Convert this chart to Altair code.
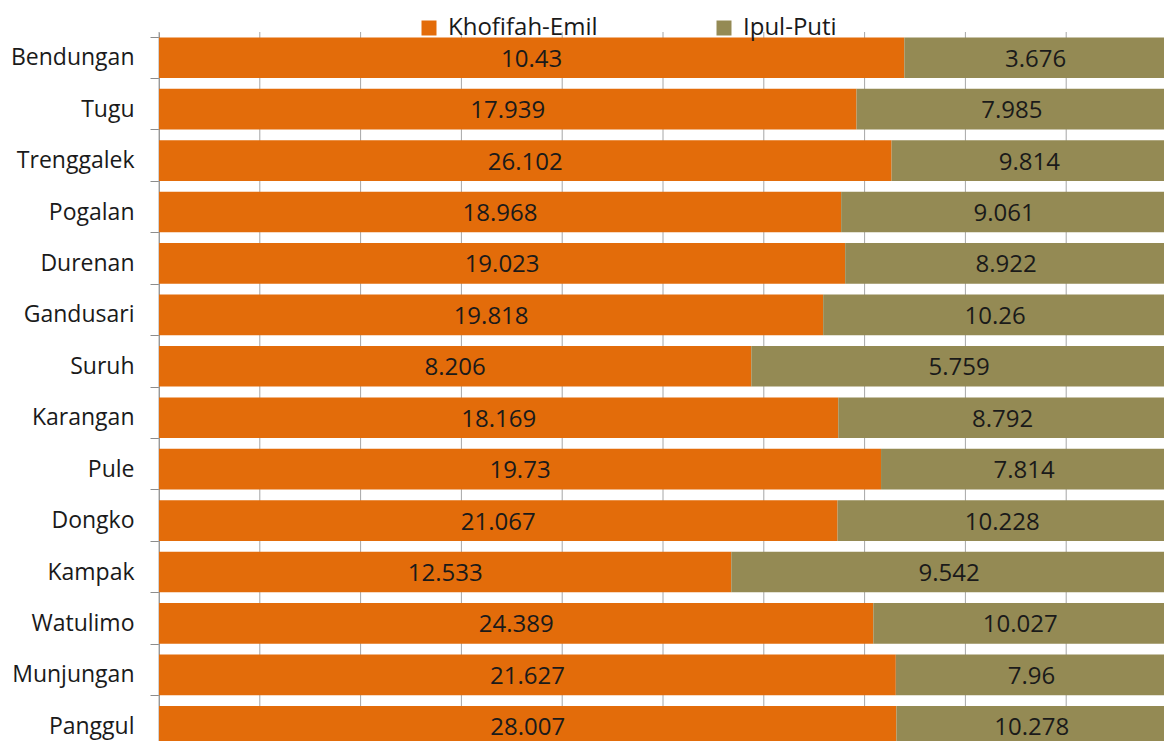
import altair as alt
import pandas as pd

kecamatan = ["Bendungan", "Tugu", "Trenggalek", "Pogalan", "Durenan", "Gandusari", "Suruh",
             "Karangan", "Pule", "Dongko", "Kampak", "Watulimo", "Munjungan", "Panggul"]
khofifah_emil = [10.43, 17.939, 26.102, 18.968, 19.023, 19.818, 8.206,
                 18.169, 19.73, 21.067, 12.533, 24.389, 21.627, 28.007]
ipul_puti = [3.676, 7.985, 9.814, 9.061, 8.922, 10.26, 5.759,
             8.792, 7.814, 10.228, 9.542, 10.027, 7.96, 10.278]
series = ["Khofifah-Emil", "Ipul-Puti"]
colors = ["#E36C0A", "#948A54"]
grid_values = [0.0, 0.1, 0.2, 0.3, 0.4, 0.5, 0.6, 0.7, 0.8, 0.9, 1.0]

rows = []
for k, a, b in zip(kecamatan, khofifah_emil, ipul_puti):
    rows.append({"kec": k, "paslon": series[0], "ord": 0, "value": a})
    rows.append({"kec": k, "paslon": series[1], "ord": 1, "value": b})
df = pd.DataFrame(rows)
grid_df = pd.DataFrame({"g": grid_values})

FONT = "Open Sans"

base = (
    alt.Chart(df)
    .transform_stack(stack="value", groupby=["kec"], as_=["v0", "v1"], offset="normalize",
                     sort=[alt.SortField("ord", order="ascending")])
    .transform_calculate(mid="(datum.v0 + datum.v1) / 2", label="toString(datum.value)")
)

y_scale = alt.Scale(paddingInner=0.21, paddingOuter=0.105, range=[0, 720])
x_scale = alt.Scale(domain=[0, 1], nice=False, range=[0, 1008])

y_enc = alt.Y("kec:N", sort=kecamatan, title=None, scale=y_scale,
              axis=alt.Axis(tickBand="extent", labelFont=FONT, labelFontSize=23, labelColor="#1a1a1a",
                            labelPadding=16, tickSize=9, tickColor="#8c8c8c", domainColor="#8c8c8c",
                            grid=False, labelLimit=200))

grid = alt.Chart(grid_df).mark_rule(color="#a6a6a6", strokeWidth=1).encode(
    x=alt.X("g:Q", scale=x_scale, axis=None),
    y=alt.value(0),
    y2=alt.value(760),
)

bars = base.mark_bar().encode(
    y=y_enc,
    x=alt.X("v0:Q", scale=x_scale, title=None, axis=None),
    x2="v1:Q",
    color=alt.Color("paslon:N", sort=series,
                    scale=alt.Scale(domain=series, range=colors),
                    legend=alt.Legend(title=None, orient="none", legendX=258, legendY=-16,
                                      direction="horizontal", symbolType="square", symbolSize=225,
                                      symbolStrokeWidth=0, labelFont=FONT, labelFontSize=24,
                                      labelColor="#1a1a1a", labelOffset=7, columnPadding=114)),
)

text = base.mark_text(font=FONT, fontSize=24, color="#1a1a1a", baseline="middle", dy=2).encode(
    y=y_enc,
    x=alt.X("mid:Q", scale=x_scale, axis=None),
    text="label:N",
)

chart = alt.layer(grid, bars, text).properties(
    width=1005, height=709,
    autosize=alt.AutoSizeParams(type="none"),
    padding={"left": 151, "top": 24, "right": 0, "bottom": 0},
).configure_view(stroke=None)

chart.save("out.html", embed_options={"renderer": "svg", "actions": False})
